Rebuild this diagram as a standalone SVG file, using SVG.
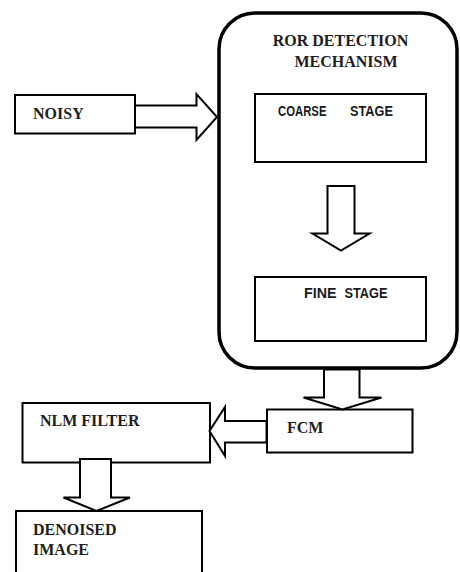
<svg xmlns="http://www.w3.org/2000/svg" width="460" height="572" viewBox="0 0 460 572">
<style>
.box{fill:#fff;stroke:#000;stroke-width:2}
.big{fill:#fff;stroke:#000;stroke-width:3.5}
.arr{fill:#fff;stroke:#000;stroke-width:2;stroke-linejoin:miter}
.serif{font-family:"Liberation Serif","Times New Roman",serif;font-weight:bold;font-size:16px;fill:#1e1e1e}
.sans{font-family:"Liberation Sans",Arial,sans-serif;font-weight:bold;font-size:14.5px;fill:#1a1a22}
</style>
<rect width="460" height="572" fill="#fff"/>
<g id="ror">
<rect class="big" x="219" y="13" width="238" height="355" rx="36" ry="36"/>
<text class="serif" x="340.5" y="45.5" text-anchor="middle">ROR DETECTION</text>
<text class="serif" x="346" y="66.5" text-anchor="middle">MECHANISM</text>
</g>
<g id="coarse">
<rect class="box" x="255" y="94" width="171" height="68"/>
<text class="sans" y="115.5"><tspan x="278" textLength="48.5" lengthAdjust="spacingAndGlyphs">COARSE</tspan> <tspan x="350" textLength="43" lengthAdjust="spacingAndGlyphs">STAGE</tspan></text>
</g>
<g id="fine">
<rect class="box" x="255" y="277" width="171" height="64"/>
<text class="sans" y="298"><tspan x="304" textLength="32.5" lengthAdjust="spacingAndGlyphs">FINE</tspan> <tspan x="344.5" textLength="43" lengthAdjust="spacingAndGlyphs">STAGE</tspan></text>
</g>
<g id="noisy">
<rect class="box" x="15" y="95" width="120" height="38.5"/>
<text class="serif" x="33" y="118.5">NOISY</text>
</g>
<g id="fcm">
<rect class="box" x="267" y="409.5" width="145.5" height="43"/>
<text class="serif" x="287" y="432.5">FCM</text>
</g>
<g id="nlm">
<rect class="box" x="22.5" y="403" width="187.5" height="59.5"/>
<text class="serif" x="40" y="426">NLM FILTER</text>
</g>
<g id="denoised">
<rect class="box" x="16" y="511" width="186" height="80"/>
<text class="serif" x="33" y="534.5">DENOISED</text>
<text class="serif" x="33" y="555">IMAGE</text>
</g>
<g id="connectors">
<polygon class="arr" points="135,105.5 196.5,105.5 196.5,94 217,117 196.5,140 196.5,127.5 135,127.5"/>
<polygon class="arr" points="327.5,186 354.5,186 354.5,233.5 369.5,233.5 341,250.5 312.5,233.5 327.5,233.5"/>
<polygon class="arr" points="324,369.5 359.5,369.5 359.5,397.5 381.5,397.5 342.5,409.5 303.5,397.5 324,397.5"/>
<polygon class="arr" points="266.5,421 225,421 225,407 209.5,431 225,456 225,442.5 266.5,442.5"/>
<polygon class="arr" points="80,459 111,459 111,497.5 130,497.5 96.5,511 63.5,497.5 80,497.5"/>
</g>
</svg>
